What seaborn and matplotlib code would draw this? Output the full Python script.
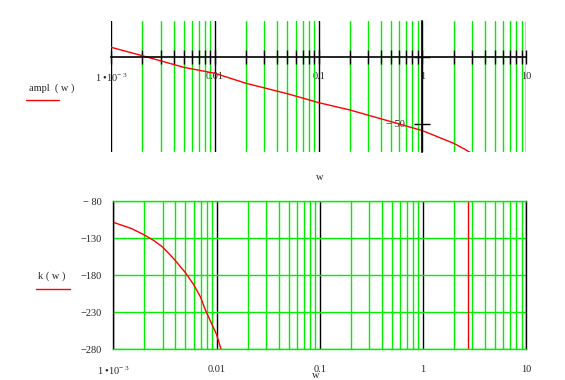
import numpy as np
import pandas as pd
import matplotlib
matplotlib.use("Agg")
import matplotlib.pyplot as plt
from matplotlib.lines import Line2D
from matplotlib.ticker import LogLocator, NullFormatter, FixedLocator, FixedFormatter
import seaborn as sns

# ---------------- data ----------------
w_amp = [0.001, 0.002, 0.005, 0.01, 0.02, 0.05, 0.1, 0.2, 0.5, 1.0, 2.0, 2.5, 2.9, 3.3]
ampl = [7.5, 1.2, -7.5, -12.0, -19.5, -27.3, -34.0, -39.5, -48.3, -55.0, -64.5, -68.5, -71.5, -76.0]

w_phase = [0.001, 0.0015, 0.002, 0.0025, 0.003, 0.0035, 0.004, 0.0045, 0.005,
           0.006, 0.007, 0.0078, 0.009, 0.01, 0.011, 0.0125]
k_phase = [-108.4, -116.8, -125.5, -133.5, -141.8, -151.5, -160.2, -169.0, -176.5,
           -192.5, -209.5, -227.0, -246.0, -260.0, -279.0, -305.0]
# phase wrap-around jump seen as a vertical trace
w_wrap = [2.75, 2.75]
k_wrap = [-400.0, 0.0]

x_ticks = [0.001, 0.01, 0.1, 1, 10]
x_ticklabels = ["$1\\;\u202210^{-\\;3}$", "0.01", "0.1", "1", "10"]
amp_yticks = [0, -50]
amp_yticklabels = ["", "\u2212 50"]
k_yticks = [-80, -130, -180, -230, -280]
k_yticklabels = ["\u2212 80", "\u2212130", "\u2212180", "\u2212230", "\u2212280"]
amp_label = "ampl  ( w )"
k_label = "k ( w )"
x_label = "w"

# ---------------- style ----------------
sns.set_style("white")
plt.rcParams["font.family"] = ["Liberation Serif", "DejaVu Serif"]
plt.rcParams["mathtext.fontset"] = "custom"
plt.rcParams["mathtext.rm"] = "Liberation Serif"
plt.rcParams["mathtext.it"] = "Liberation Serif"
plt.rcParams["mathtext.bf"] = "Liberation Serif"
plt.rcParams["mathtext.default"] = "rm"

GREEN = "#00ee00"
RED = "#ff0000"
FS = 7.5
W, H = 565, 380

fig = plt.figure(figsize=(5.65, 3.8), dpi=100)

def px_axes(x0, y0, x1, y1):
    return fig.add_axes([x0 / W, 1 - y1 / H, (x1 - x0) / W, (y1 - y0) / H])

# ---------------- top: amplitude ----------------
ax1 = px_axes(111, 21, 526.3, 152)
df_amp = pd.DataFrame({"w": w_amp, "ampl": ampl})
sns.lineplot(data=df_amp, x="w", y="ampl", ax=ax1, color=RED, lw=1.0,
             sort=False, estimator=None, legend=False)
ax1.set_xscale("log")
ax1.set_xlim(1e-3, 10)
ax1.set_ylim(-71.0, 27.2)
ax1.set_xlabel("")
ax1.set_ylabel("")
for s in ["top", "right"]:
    ax1.spines[s].set_visible(False)
ax1.spines["left"].set_position(("data", 1.0))
ax1.spines["bottom"].set_position(("data", 0.0))
for s in ["left", "bottom"]:
    ax1.spines[s].set_color("black")
    ax1.spines[s].set_linewidth(1.2)
    ax1.spines[s].set_zorder(3)
ax1.xaxis.set_major_locator(FixedLocator(x_ticks))
ax1.xaxis.set_major_formatter(FixedFormatter(x_ticklabels))
ax1.xaxis.set_minor_locator(LogLocator(base=10, subs=np.arange(2, 10)))
ax1.xaxis.set_minor_formatter(NullFormatter())
ax1.tick_params(axis="x", which="both", direction="inout", length=10, width=1,
                color="black", labelsize=FS, pad=5.5, bottom=True)
ax1.grid(True, axis="x", which="minor", color=GREEN, lw=1.0)
ax1.grid(True, axis="x", which="major", color="black", lw=1.0)
ax1.set_yticks(amp_yticks)
ax1.set_yticklabels(amp_yticklabels)
ax1.tick_params(axis="y", which="both", direction="inout", length=11, width=1,
                color="black", labelsize=FS, pad=7, left=True)
ax1.patch.set_alpha(0)

# ---------------- bottom: phase ----------------
ax2 = px_axes(113.3, 201.3, 526.3, 349.3)
df_k = pd.DataFrame({"w": w_phase, "k": k_phase})
sns.lineplot(data=df_k, x="w", y="k", ax=ax2, color=RED, lw=1.0,
             sort=False, estimator=None, legend=False)
df_wrap = pd.DataFrame({"w": w_wrap, "k": k_wrap})
sns.lineplot(data=df_wrap, x="w", y="k", ax=ax2, color=RED, lw=1.0,
             sort=False, estimator=None, legend=False)
ax2.set_xscale("log")
ax2.set_xlim(1e-3, 10)
ax2.set_ylim(-280, -80)
ax2.set_xlabel("")
ax2.set_ylabel("")
ax2.xaxis.set_major_locator(FixedLocator(x_ticks))
ax2.xaxis.set_major_formatter(FixedFormatter(x_ticklabels))
ax2.xaxis.set_minor_locator(LogLocator(base=10, subs=np.arange(2, 10)))
ax2.xaxis.set_minor_formatter(NullFormatter())
ax2.set_yticks(k_yticks)
ax2.set_yticklabels(k_yticklabels)
ax2.tick_params(axis="both", which="both", length=0, labelsize=FS)
ax2.tick_params(axis="x", pad=11)
ax2.tick_params(axis="y", pad=8.5)
ax2.grid(True, axis="x", which="minor", color=GREEN, lw=1.0)
ax2.grid(True, axis="x", which="major", color="black", lw=1.0)
ax2.grid(True, axis="y", which="major", color=GREEN, lw=1.0)
for s in ["left", "right"]:
    ax2.spines[s].set_color("black")
    ax2.spines[s].set_linewidth(1.0)
for s in ["top", "bottom"]:
    ax2.spines[s].set_color(GREEN)
    ax2.spines[s].set_linewidth(1.0)

# ---------------- labels ----------------
fig.text(52 / W, 1 - 88 / H, amp_label, ha="center", va="center", fontsize=FS)
fig.add_artist(Line2D([26 / W, 59 / W], [1 - 99.5 / H, 1 - 99.5 / H], color=RED, lw=1.0))
fig.text(52 / W, 1 - 276 / H, k_label, ha="center", va="center", fontsize=FS)
fig.add_artist(Line2D([36 / W, 70 / W], [1 - 289 / H, 1 - 289 / H], color=RED, lw=1.0))
fig.text(320 / W, 1 - 178 / H, x_label, ha="center", va="center", fontsize=FS)
fig.text(316 / W, 1 - 375 / H, x_label, ha="center", va="center", fontsize=FS)

fig.savefig("out.png", dpi=100)
